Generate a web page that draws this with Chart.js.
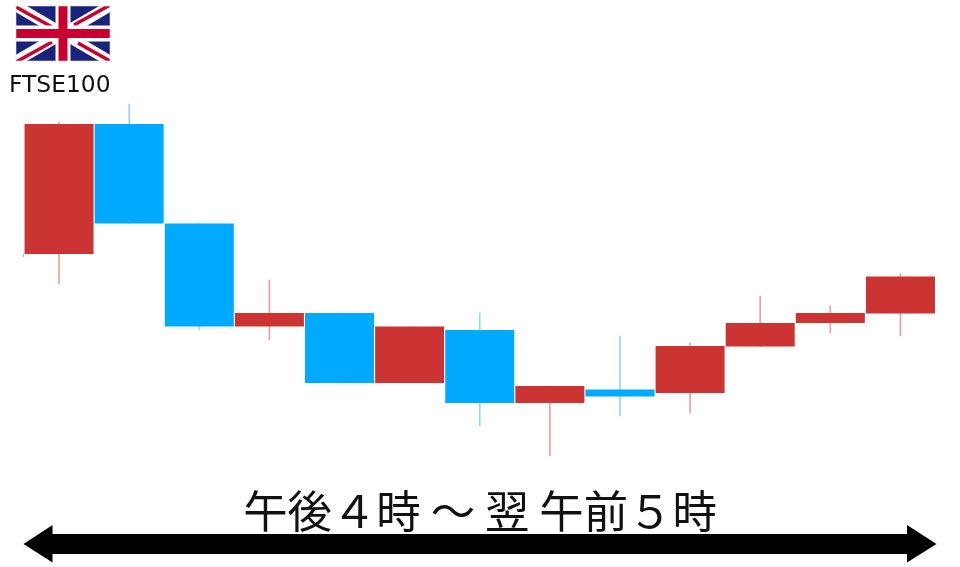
<!DOCTYPE html>
<html lang="ja">

<head>
    <meta charset="UTF-8">
    <title>FTSE100</title>
    <script src="https://cdn.jsdelivr.net/npm/chart.js"></script>

    <style>
        html, body {
            margin: 0;
            background: #fff;
        }

        .container {
            position: relative;
            width: 960px;
            height: 567px;
            overflow: hidden;
        }

        canvas {
            position: absolute;
            left: 0;
            top: 0;
        }

        svg {
            position: absolute;
            left: 0;
            top: 0;
        }

        #indexName {
            position: absolute;
            left: 9px;
            top: 70px;
            font: 23.4px "DejaVu Sans", sans-serif;
            color: #111;
        }

        #timeRange {
            position: absolute;
            left: 0;
            width: 960px;
            top: 476px;
            text-align: center;
            font: 400 44.4px "Noto Sans CJK JP", sans-serif;
            white-space: pre;
            color: #111;
        }
    </style>
</head>

<body>
    <div class="container">
        <canvas id="myChart" width="960" height="567"></canvas>

        <!-- flag -->
        <svg width="960" height="567">
            <defs>
                <clipPath id="flagClip">
                    <rect x="16" y="6" width="94" height="55" />
                </clipPath>
            </defs>
            <g clip-path="url(#flagClip)">
                <rect x="16" y="6" width="94" height="55" fill="#1a237b" />
                <path d="M16 6L110 61M110 6L16 61" stroke="#fff" stroke-width="11" />
                <path d="M16 7L52 27M74 25L110 5M16 62L52 42M78 43L110 61" stroke="#c8002f" stroke-width="3.5" />
                <path d="M63 6V61" stroke="#fff" stroke-width="15" />
                <path d="M16 33.5H110" stroke="#fff" stroke-width="16" />
                <path d="M63 6V61M16 33.5H110" stroke="#c8002f" stroke-width="9" />
            </g>
            <rect x="16" y="6" width="94" height="55" fill="none" stroke="#ddd" stroke-width="0.6" />
            <!-- double arrow -->
            <path d="M23.5 544L52.5 525V534H907V525L936.5 544L907 562.5V554H52.5V562.5Z" fill="#000" />
            <!-- stray tick next to the first candle -->
            <path d="M23.5 254V257" stroke="#e8a0a0" stroke-width="1" />
        </svg>

        <div id="indexName">FTSE100</div>
        <div id="timeRange">午後４時 ～ 翌 午前５時</div>
    </div>

    <script>
        const categories = ['16時', '17時', '18時', '19時', '20時', '21時', '22時', '23時', '0時', '1時', '2時', '3時', '4時'];
        const opens = [313, 443, 343.5, 240.5, 254, 184, 237, 164, 177.5, 174, 220.5, 244, 253.5];
        const closes = [443, 343.5, 240.5, 254, 184, 240.5, 164, 181, 170.5, 221, 244, 254, 290.5];
        const highs = [445, 463, 343.5, 287, 254, 240.5, 254, 181, 231, 224, 271, 261, 293.5];
        const lows = [283, 343.5, 237, 227, 184, 184, 141, 111, 151, 154, 220.5, 234, 231];

        const upColor = '#cc3333';
        const downColor = '#00aaff';
        const upWick = '#e8a0a0';
        const downWick = '#90d8ff';

        const ctx = document.getElementById('myChart').getContext('2d');

        const myChart = new Chart(ctx, {
            type: 'bar',
            data: {
                labels: categories,
                datasets: [{
                    label: 'wick',
                    data: highs.map((h, i) => [lows[i], h]),
                    backgroundColor: closes.map((c, i) => c > opens[i] ? upWick : downWick),
                    barThickness: 1,
                    grouped: false,
                    order: 2
                }, {
                    label: 'body',
                    data: opens.map((o, i) => [o, closes[i]]),
                    backgroundColor: closes.map((c, i) => c > opens[i] ? upColor : downColor),
                    barPercentage: 1,
                    categoryPercentage: 0.984,
                    grouped: false,
                    order: 1
                }]
            },
            options: {
                responsive: false,
                animation: false,
                layout: {
                    padding: { left: 24, right: 24.5, top: 0, bottom: 0 }
                },
                plugins: {
                    legend: { display: false },
                    tooltip: { enabled: false }
                },
                scales: {
                    x: { display: false },
                    y: { display: false, min: 0, max: 567 }
                }
            }
        });
    </script>
</body>

</html>
